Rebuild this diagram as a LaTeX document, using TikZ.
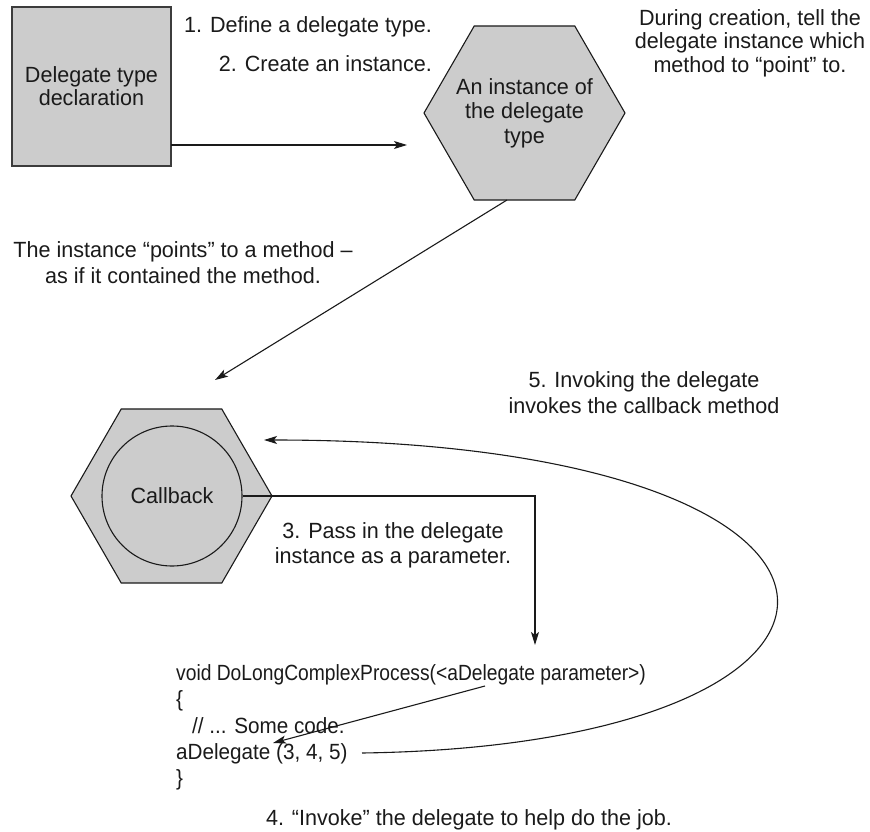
\documentclass[tikz,border=0pt]{standalone}
\usepackage{fontspec}
\setmainfont{Liberation Sans}[FakeStretch=0.98]
\newfontfamily\codefont{Liberation Sans}[FakeStretch=0.94]
\newfontfamily\codewide{Liberation Sans}[FakeStretch=0.875]
\usetikzlibrary{shapes.geometric,arrows.meta}
\definecolor{shade}{HTML}{CCCCCC}
\definecolor{ink}{HTML}{1A1A1A}
\begin{document}
\begin{tikzpicture}[x=1pt,y=-1pt,
  txt/.style={font=\fontsize{22}{23}\selectfont, text=ink, inner sep=0pt, align=center},
  code/.style={font=\codefont\fontsize{22}{26}\selectfont, text=ink, inner sep=0pt, anchor=base west},
  hexa/.style={regular polygon, regular polygon sides=6, minimum size=201pt, inner sep=0pt,
    draw=ink, fill=shade, line width=1.1pt},
  conn/.style={draw=ink, line width=1.1pt, -{Stealth[length=13pt,width=8pt,inset=3pt]}}]
\useasboundingbox (0,0) rectangle (870,832);

% box
\node[txt, draw=ink!85, fill=shade, line width=1.6pt, minimum width=159pt, minimum height=159pt]
  (decl) at (91.5,86.5) {Delegate type\\declaration};

% instance hexagon
\node[hexa] (inst) at (524.5,113) {};
\node[txt, font=\fontsize{22}{24.5}\selectfont] (insttext) at (inst.center) {An instance of\\the delegate\\type};

% callback hexagon and circle
\node[hexa] (cbhex) at (171.5,496) {};
\node[circle, draw=ink, fill=shade, line width=1.1pt, minimum size=140pt, inner sep=0pt, txt]
  (cb) at (172,496) {Callback};

% labels
\node[txt, anchor=base east] (l1) at (432,33) {1. Define a delegate type.};
\node[txt, anchor=base east] (l2) at (432,72) {2. Create an instance.};
\node[txt, anchor=north, font=\fontsize{22}{23.5}\selectfont] (lr) at (750,9)
  {During creation, tell the\\delegate instance which\\method to “point” to.};
\node[txt, anchor=north, font=\fontsize{22}{26}\selectfont] (lp) at (183,241)
  {The instance “points” to a method –\\as if it contained the method.};
\node[txt, anchor=north, font=\fontsize{22}{25}\selectfont] (l3) at (393,522)
  {3. Pass in the delegate\\instance as a parameter.};
\node[txt, anchor=north, font=\fontsize{22}{26}\selectfont] (l5) at (644,371)
  {5. Invoking the delegate\\invokes the callback method};
\node[txt, anchor=base] (l4) at (469,825) {4. “Invoke” the delegate to help do the job.};

% code
\node[code, font=\codewide\fontsize{22}{26}\selectfont] (c1) at (176,680) {void DoLongComplexProcess(<aDelegate parameter>)};
\node[code] (c2) at (176,706) {\{};
\node[code] (c3) at (192,733) {// ... Some code.};
\node[code] (c4) at (176,759) {aDelegate (3, 4, 5)};
\node[code] (c5) at (176,785) {\}};

% free ends
\coordinate (a1) at (407,145);
\coordinate (s1) at (171,145);
\coordinate (s2) at (507,200);
\coordinate (a2) at (215,380);
\coordinate (a3) at (535,645);
\coordinate (s4) at (485,686);
\coordinate (a4) at (273,743);
\coordinate (s5) at (362,753);
\coordinate (a5) at (264,440);

% connectors
\draw[conn] (s1) -- (a1);
\draw[conn] (s2) -- (a2);
\draw[conn] (cb.east) -| (a3);
\draw[conn] (s4) -- (a4);
\draw[conn] (s5) .. controls (930,745) and (930,440) .. (a5);
\end{tikzpicture}
\end{document}
